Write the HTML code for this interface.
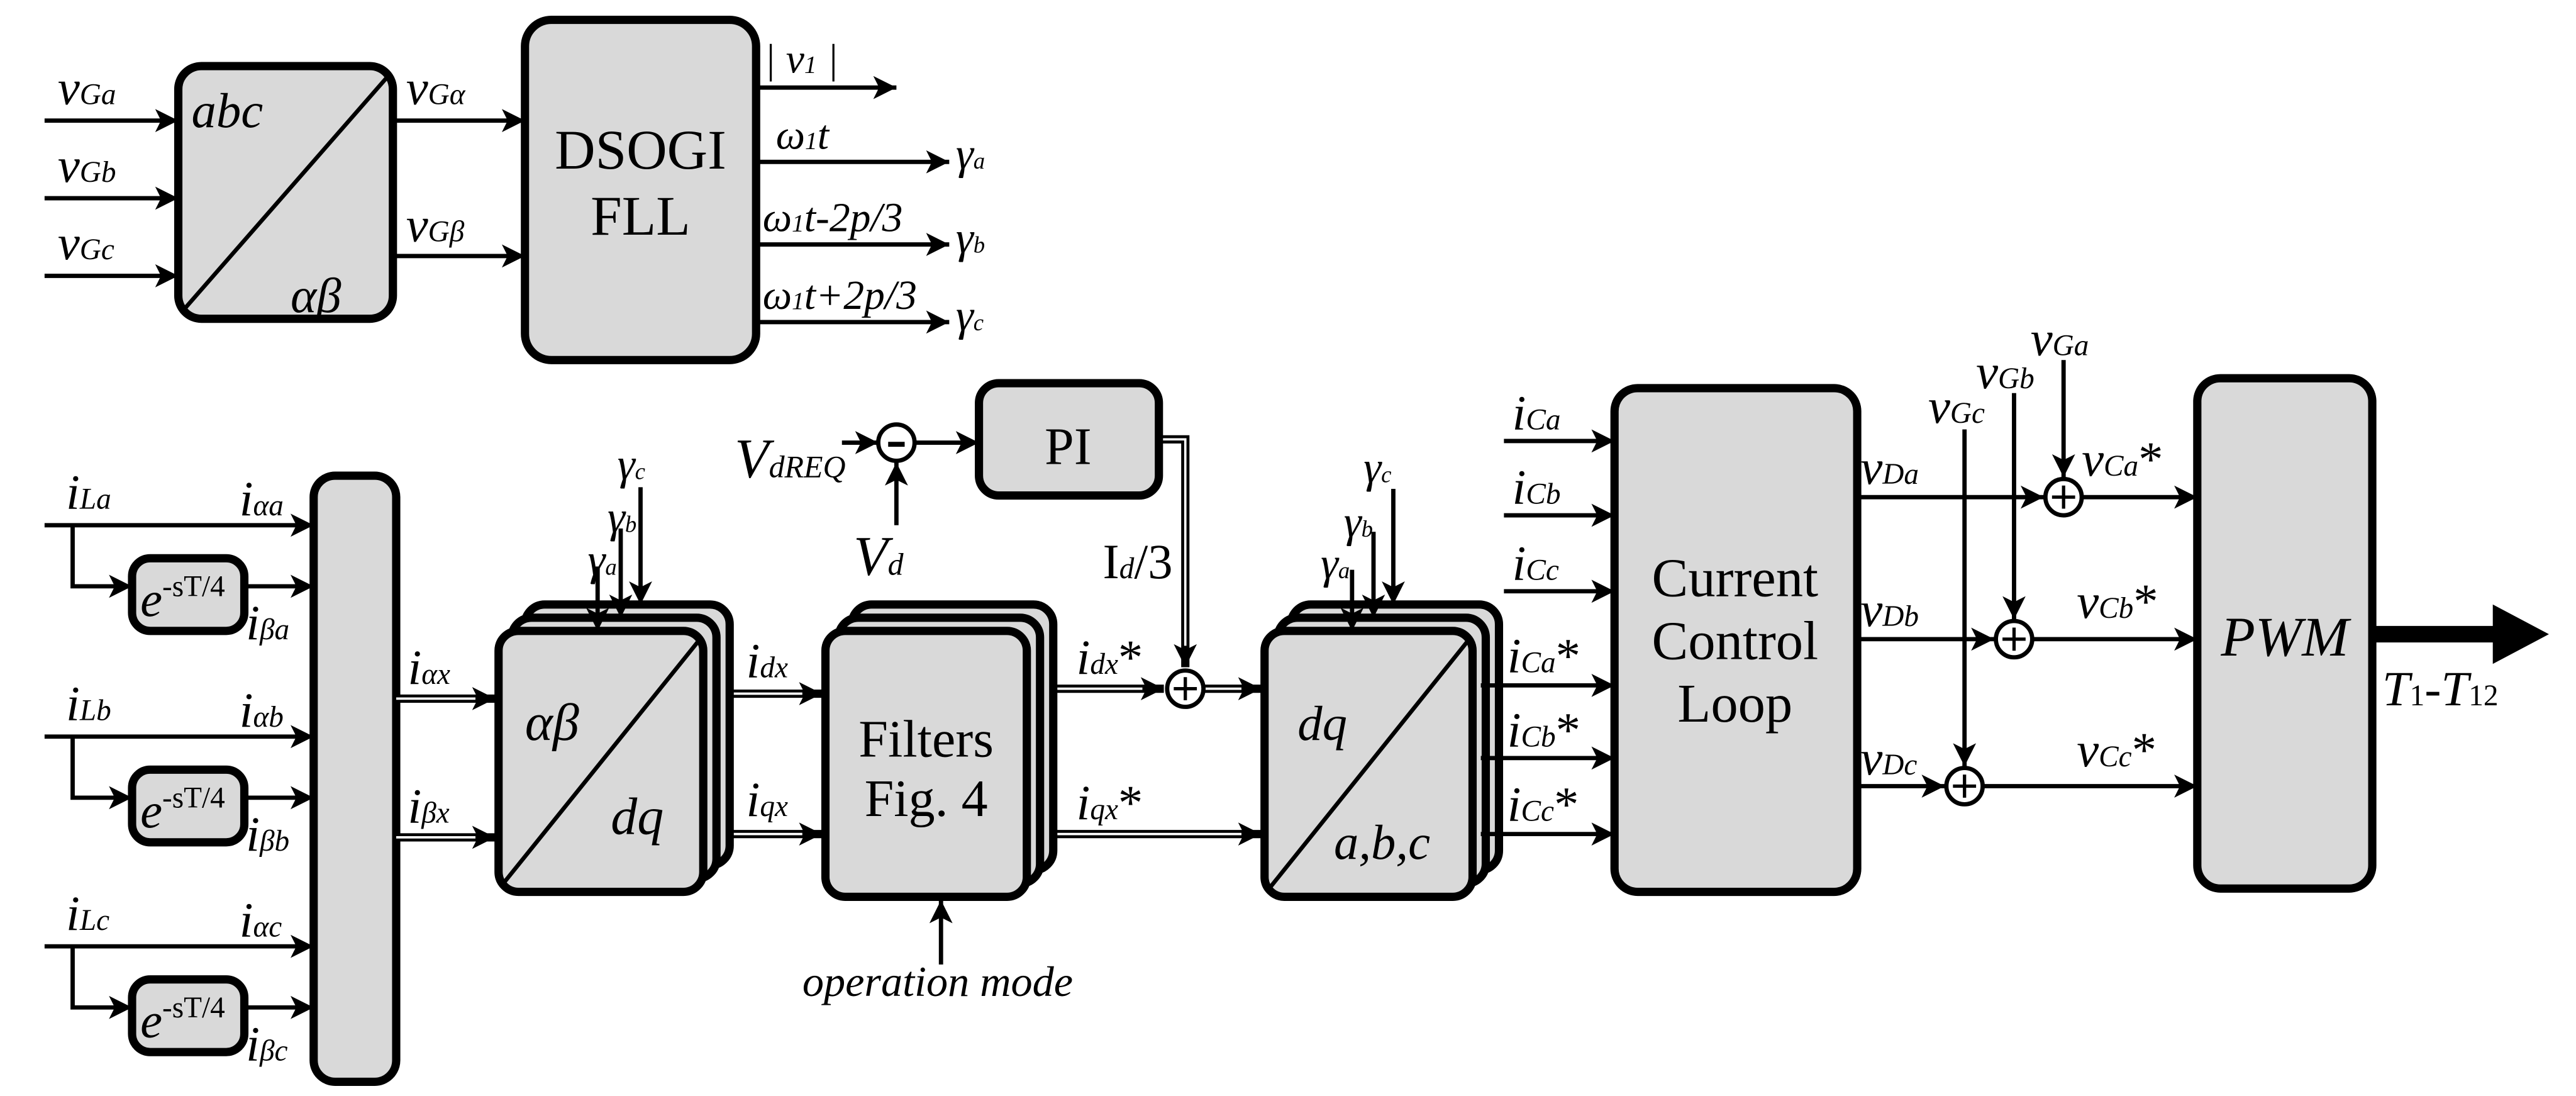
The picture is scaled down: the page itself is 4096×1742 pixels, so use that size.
<!DOCTYPE html>
<html><head><meta charset="utf-8"><style>
html,body{margin:0;padding:0;background:#fff}
svg{display:block}
text{font-family:"Liberation Serif","DejaVu Serif",serif;fill:#000}
.i{font-style:italic}
</style></head><body>
<svg width="4096" height="1742" viewBox="0 0 1560.4 663.6" xmlns="http://www.w3.org/2000/svg" font-family="Liberation Serif, DejaVu Serif, serif">
<defs>
<marker id="a" viewBox="0 0 10 10" refX="10" refY="5" markerWidth="15" markerHeight="14" markerUnits="userSpaceOnUse" orient="auto"><path d="M0,0 L10,5 L0,10 L2.5,5z" fill="#000"/></marker>
</defs>
<g stroke="#000" stroke-width="2.6" fill="none">
<line x1="27" y1="73" x2="108" y2="73" marker-end="url(#a)"/>
<line x1="27" y1="120" x2="108" y2="120" marker-end="url(#a)"/>
<line x1="27" y1="167" x2="108" y2="167" marker-end="url(#a)"/>
<line x1="238" y1="73" x2="318" y2="73" marker-end="url(#a)"/>
<line x1="238" y1="155" x2="318" y2="155" marker-end="url(#a)"/>
<line x1="458" y1="53" x2="543" y2="53" marker-end="url(#a)"/>
<line x1="458" y1="98" x2="575" y2="98" marker-end="url(#a)"/>
<line x1="458" y1="148" x2="575" y2="148" marker-end="url(#a)"/>
<line x1="458" y1="195" x2="575" y2="195" marker-end="url(#a)"/>
</g>
<g stroke="#000" stroke-width="5" fill="#d9d9d9">
<rect x="108" y="40" width="130" height="153" rx="14"/>
<rect x="318" y="12" width="140" height="206" rx="16"/>
</g>
<line x1="236" y1="45" x2="110" y2="189" stroke="#000" stroke-width="2.5"/>
<g font-size="30">
<text x="35" y="63" class="i">v<tspan font-size="18">Ga</tspan></text>
<text x="35" y="110" class="i">v<tspan font-size="18">Gb</tspan></text>
<text x="35" y="157" class="i">v<tspan font-size="18">Gc</tspan></text>
<text x="116" y="77" class="i">abc</text>
<text x="176" y="189" class="i">αβ</text>
<text x="246" y="63" class="i">v<tspan font-size="18">Gα</tspan></text>
<text x="246" y="146" class="i">v<tspan font-size="18">Gβ</tspan></text>
</g>
<text x="388" y="102" font-size="34" text-anchor="middle">DSOGI</text>
<text x="388" y="142" font-size="34" text-anchor="middle">FLL</text>
<text x="463" y="44" font-size="25" class="i">| v<tspan font-size="15">1</tspan> |</text>
<text x="470" y="90" font-size="25" class="i">ω<tspan font-size="15">1</tspan>t</text>
<text x="462" y="140" font-size="25" class="i">ω<tspan font-size="15">1</tspan>t-2p/3</text>
<text x="462" y="187" font-size="25" class="i">ω<tspan font-size="15">1</tspan>t+2p/3</text>
<text x="579" y="102" font-size="27" class="i">γ<tspan font-size="14">a</tspan></text>
<text x="579" y="153" font-size="27" class="i">γ<tspan font-size="14">b</tspan></text>
<text x="579" y="200" font-size="27" class="i">γ<tspan font-size="14">c</tspan></text>

<g stroke="#000" stroke-width="2.6" fill="none">
<line x1="27" y1="318" x2="190" y2="318" marker-end="url(#a)"/>
<path d="M44,318 V355 H80" marker-end="url(#a)"/>
<line x1="148" y1="355" x2="190" y2="355" marker-end="url(#a)"/>
<line x1="27" y1="446" x2="190" y2="446" marker-end="url(#a)"/>
<path d="M44,446 V483 H80" marker-end="url(#a)"/>
<line x1="148" y1="483" x2="190" y2="483" marker-end="url(#a)"/>
<line x1="27" y1="573" x2="190" y2="573" marker-end="url(#a)"/>
<path d="M44,573 V610 H80" marker-end="url(#a)"/>
<line x1="148" y1="610" x2="190" y2="610" marker-end="url(#a)"/>
</g>
<g stroke="#000" stroke-width="5" fill="#d9d9d9">
<rect x="80" y="338" width="68" height="44" rx="11"/>
<rect x="80" y="466" width="68" height="44" rx="11"/>
<rect x="80" y="593" width="68" height="44" rx="11"/>
<rect x="190" y="288" width="50" height="367" rx="13"/>
</g>
<g font-size="30">
<text x="85" y="373" class="i">e<tspan font-size="18" dy="-12" font-style="normal">-sT/4</tspan></text>
<text x="85" y="501" class="i">e<tspan font-size="18" dy="-12" font-style="normal">-sT/4</tspan></text>
<text x="85" y="628" class="i">e<tspan font-size="18" dy="-12" font-style="normal">-sT/4</tspan></text>
<text x="40" y="308" class="i">i<tspan font-size="18">La</tspan></text>
<text x="40" y="436" class="i">i<tspan font-size="18">Lb</tspan></text>
<text x="40" y="563" class="i">i<tspan font-size="18">Lc</tspan></text>
<text x="145" y="312" class="i">i<tspan font-size="18">αa</tspan></text>
<text x="145" y="440" class="i">i<tspan font-size="18">αb</tspan></text>
<text x="145" y="567" class="i">i<tspan font-size="18">αc</tspan></text>
<text x="149" y="387" class="i">i<tspan font-size="18">βa</tspan></text>
<text x="149" y="515" class="i">i<tspan font-size="18">βb</tspan></text>
<text x="149" y="642" class="i">i<tspan font-size="18">βc</tspan></text>
</g>

<g stroke="#000" stroke-width="5" fill="none">
<line x1="240" y1="423" x2="300" y2="423" marker-end="url(#a)"/>
<line x1="240" y1="507" x2="300" y2="507" marker-end="url(#a)"/>
<line x1="432" y1="420" x2="498" y2="420" marker-end="url(#a)"/>
<line x1="432" y1="505" x2="498" y2="505" marker-end="url(#a)"/>
<line x1="622" y1="417" x2="705" y2="417" marker-end="url(#a)"/>
<line x1="729" y1="417" x2="764" y2="417" marker-end="url(#a)"/>
<line x1="622" y1="505" x2="764" y2="505" marker-end="url(#a)"/>
<path d="M702,266 H718 V404" marker-end="url(#a)"/>
</g>
<g stroke="#fff" stroke-width="1.4" fill="none">
<line x1="240" y1="423" x2="288" y2="423"/>
<line x1="240" y1="507" x2="288" y2="507"/>
<line x1="432" y1="420" x2="486" y2="420"/>
<line x1="432" y1="505" x2="486" y2="505"/>
<line x1="622" y1="417" x2="692" y2="417"/>
<line x1="729" y1="417" x2="752" y2="417"/>
<line x1="622" y1="505" x2="752" y2="505"/>
<path d="M702,266 H718 V391"/>
</g>

<g stroke="#000" stroke-width="5" fill="#d9d9d9">
<rect x="318" y="366" width="124" height="158" rx="12"/>
<rect x="310" y="374" width="124" height="158" rx="12"/>
<rect x="302" y="382" width="124" height="158" rx="12"/>
<rect x="516" y="366" width="122" height="161" rx="12"/>
<rect x="508" y="374" width="122" height="161" rx="12"/>
<rect x="500" y="382" width="122" height="161" rx="12"/>
<rect x="782" y="366" width="126" height="161" rx="12"/>
<rect x="774" y="374" width="126" height="161" rx="12"/>
<rect x="766" y="382" width="126" height="161" rx="12"/>
<rect x="593" y="232" width="109" height="68" rx="12"/>
<rect x="978" y="235" width="147" height="305" rx="14"/>
<rect x="1331" y="229" width="106" height="309" rx="14"/>
</g>
<line x1="424" y1="387" x2="304" y2="536" stroke="#000" stroke-width="2.5"/>
<line x1="890" y1="387" x2="768" y2="539" stroke="#000" stroke-width="2.5"/>
<text x="318" y="448" font-size="32" class="i">αβ</text>
<text x="370" y="505" font-size="32" class="i">dq</text>
<text x="561" y="458" font-size="32" text-anchor="middle">Filters</text>
<text x="561" y="494" font-size="32" text-anchor="middle">Fig. 4</text>
<text x="786" y="448" font-size="30" class="i">dq</text>
<text x="808" y="520" font-size="30" class="i">a,b,c</text>
<text x="647" y="281" font-size="32" text-anchor="middle">PI</text>
<text x="1051" y="361" font-size="33" text-anchor="middle">Current</text>
<text x="1051" y="399" font-size="33" text-anchor="middle">Control</text>
<text x="1051" y="437" font-size="33" text-anchor="middle">Loop</text>
<text x="1384" y="397" font-size="34" class="i" text-anchor="middle">PWM</text>

<g stroke="#000" stroke-width="2.6" fill="none">
<line x1="362" y1="343" x2="362" y2="382" marker-end="url(#a)"/>
<line x1="376" y1="320" x2="376" y2="374" marker-end="url(#a)"/>
<line x1="388" y1="295" x2="388" y2="366" marker-end="url(#a)"/>
<line x1="819" y1="345" x2="819" y2="382" marker-end="url(#a)"/>
<line x1="832" y1="322" x2="832" y2="374" marker-end="url(#a)"/>
<line x1="844" y1="296" x2="844" y2="366" marker-end="url(#a)"/>
<line x1="570" y1="584" x2="570" y2="545" marker-end="url(#a)"/>
<line x1="510" y1="268" x2="532" y2="268" marker-end="url(#a)"/>
<line x1="543" y1="318" x2="543" y2="280" marker-end="url(#a)"/>
<line x1="554" y1="268" x2="593" y2="268" marker-end="url(#a)"/>
<line x1="911" y1="267" x2="978" y2="267" marker-end="url(#a)"/>
<line x1="911" y1="312" x2="978" y2="312" marker-end="url(#a)"/>
<line x1="911" y1="358" x2="978" y2="358" marker-end="url(#a)"/>
<line x1="897" y1="415" x2="978" y2="415" marker-end="url(#a)"/>
<line x1="897" y1="459" x2="978" y2="459" marker-end="url(#a)"/>
<line x1="897" y1="505" x2="978" y2="505" marker-end="url(#a)"/>
<line x1="1125" y1="301" x2="1238" y2="301" marker-end="url(#a)"/>
<line x1="1125" y1="387" x2="1208" y2="387" marker-end="url(#a)"/>
<line x1="1125" y1="476" x2="1178" y2="476" marker-end="url(#a)"/>
<line x1="1250" y1="218" x2="1250" y2="289" marker-end="url(#a)"/>
<line x1="1220" y1="238" x2="1220" y2="375" marker-end="url(#a)"/>
<line x1="1190" y1="260" x2="1190" y2="464" marker-end="url(#a)"/>
<line x1="1262" y1="301" x2="1331" y2="301" marker-end="url(#a)"/>
<line x1="1232" y1="387" x2="1331" y2="387" marker-end="url(#a)"/>
<line x1="1202" y1="476" x2="1331" y2="476" marker-end="url(#a)"/>
</g>
<g stroke="#000" stroke-width="2.6" fill="#fff">
<circle cx="718" cy="417" r="11"/>
<circle cx="543" cy="268" r="11"/>
<circle cx="1250" cy="301" r="11"/>
<circle cx="1220" cy="387" r="11"/>
<circle cx="1190" cy="476" r="11"/>
</g>
<g stroke="#000" stroke-width="2">
<path d="M711,417 H725 M718,410 V424"/>
<path d="M538,269 H548" stroke-width="3"/>
<path d="M1243,301 H1257 M1250,294 V308"/>
<path d="M1213,387 H1227 M1220,380 V394"/>
<path d="M1183,476 H1197 M1190,469 V483"/>
</g>
<path d="M1437,379 H1510 V366 L1544,384 L1510,402 V389 H1437Z" fill="#000"/>

<g font-size="27">
<text x="356" y="348" class="i">γ<tspan font-size="14">a</tspan></text>
<text x="368" y="322" class="i">γ<tspan font-size="14">b</tspan></text>
<text x="374" y="290" class="i">γ<tspan font-size="14">c</tspan></text>
<text x="800" y="350" class="i">γ<tspan font-size="14">a</tspan></text>
<text x="814" y="325" class="i">γ<tspan font-size="14">b</tspan></text>
<text x="826" y="292" class="i">γ<tspan font-size="14">c</tspan></text>
</g>
<g font-size="30">
<text x="247" y="414" class="i">i<tspan font-size="18">αx</tspan></text>
<text x="247" y="498" class="i">i<tspan font-size="18">βx</tspan></text>
<text x="452" y="410" class="i">i<tspan font-size="18">dx</tspan></text>
<text x="452" y="494" class="i">i<tspan font-size="18">qx</tspan></text>
<text x="652" y="408" class="i">i<tspan font-size="18">dx</tspan><tspan font-style="normal">*</tspan></text>
<text x="652" y="496" class="i">i<tspan font-size="18">qx</tspan><tspan font-style="normal">*</tspan></text>
<text x="668" y="350">I<tspan font-size="18" class="i">d</tspan>/3</text>
<text x="916" y="260" class="i">i<tspan font-size="18">Ca</tspan></text>
<text x="916" y="305" class="i">i<tspan font-size="18">Cb</tspan></text>
<text x="916" y="351" class="i">i<tspan font-size="18">Cc</tspan></text>
<text x="913" y="407" class="i">i<tspan font-size="18">Ca</tspan><tspan font-style="normal">*</tspan></text>
<text x="913" y="452" class="i">i<tspan font-size="18">Cb</tspan><tspan font-style="normal">*</tspan></text>
<text x="913" y="497" class="i">i<tspan font-size="18">Cc</tspan><tspan font-style="normal">*</tspan></text>
<text x="1127" y="293" class="i">v<tspan font-size="18">Da</tspan></text>
<text x="1127" y="379" class="i">v<tspan font-size="18">Db</tspan></text>
<text x="1127" y="469" class="i">v<tspan font-size="18">Dc</tspan></text>
<text x="1261" y="288" class="i">v<tspan font-size="18">Ca</tspan><tspan font-style="normal">*</tspan></text>
<text x="1258" y="374" class="i">v<tspan font-size="18">Cb</tspan><tspan font-style="normal">*</tspan></text>
<text x="1258" y="464" class="i">v<tspan font-size="18">Cc</tspan><tspan font-style="normal">*</tspan></text>
<text x="1230" y="215" class="i">v<tspan font-size="18">Ga</tspan></text>
<text x="1197" y="235" class="i">v<tspan font-size="18">Gb</tspan></text>
<text x="1168" y="256" class="i">v<tspan font-size="18">Gc</tspan></text>
<text x="1443" y="427" class="i">T<tspan font-size="18" font-style="normal">1</tspan><tspan font-style="normal">-</tspan>T<tspan font-size="18" font-style="normal">12</tspan></text>
</g>
<text x="445" y="289" font-size="34" class="i">V<tspan font-size="19">dREQ</tspan></text>
<text x="517" y="348" font-size="34" class="i">V<tspan font-size="19">d</tspan></text>
<text x="568" y="603" font-size="26" class="i" text-anchor="middle">operation mode</text>
</svg>
</body></html>
